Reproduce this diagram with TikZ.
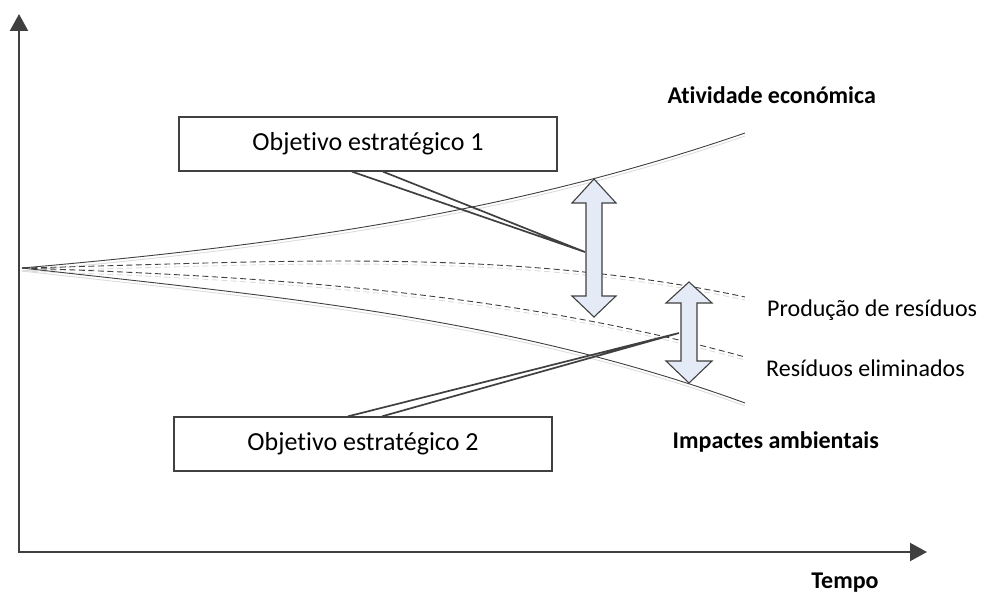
\documentclass[tikz,border=0pt]{standalone}
\usepackage{fontspec}
\setmainfont{Carlito}[Ligatures={NoCommon}]
\usetikzlibrary{arrows.meta}
\definecolor{ink}{HTML}{404040}
\definecolor{shade}{HTML}{DCDCDC}
\definecolor{arrowfill}{HTML}{E5EBF6}

\begin{document}
\begin{tikzpicture}[x=1pt,y=-1pt,
  axis/.style={line width=2.2pt, draw=ink, line join=miter,
    {Triangle[length=17pt,width=18pt]}-{Triangle[length=17pt,width=18pt]}},
  trend/.style={draw=ink, line width=0.9pt},
  trendshadow/.style={draw=shade, line width=0.9pt},
  dashes/.style={dash pattern=on 6pt off 3.5pt},
  callout/.style={draw=ink, line width=1.3pt, fill=white, minimum width=378pt,
    minimum height=54pt, inner sep=0pt, font=\fontsize{26}{30}\selectfont},
  pointer/.style={draw=ink, line width=1.7pt, line join=miter},
  gapmark/.style={draw=ink, line width=1.1pt, fill=arrowfill, line join=miter},
  curvelabel/.style={font=\fontsize{24}{28}\selectfont, inner sep=0pt},
  boldlabel/.style={font=\bfseries\fontsize{24}{28}\selectfont, inner sep=0pt},
  curveplot/.style={domain=0:7.23, samples=80, smooth}
]
\useasboundingbox (0,0) rectangle (981,602);

% axes
\coordinate (ytop) at (19,14);
\coordinate (origin) at (19,552);
\coordinate (xend) at (927,552);
\draw[axis] (ytop) -- (origin) -- (xend);
\node[boldlabel] (tempo) at (845,583) {Tempo};

% trend curves, x = 22 + 100u; each drawn first as a faint shadow
\foreach \dy/\sty in {3/trendshadow, 0/trend} {
  \begin{scope}[yshift=-\dy pt]
    % economic activity
    \draw[\sty] plot[curveplot]
      ({22+100*\x}, {268 - 8.758*\x - 0.5616*\x*\x - 0.112*\x*\x*\x});
    % waste production
    \draw[\sty, dashes] plot[curveplot]
      ({22+100*\x}, {268 - 2.1978*\x - 0.6734*\x*\x + 0.2119*\x*\x*\x});
    % waste eliminated
    \draw[\sty, dashes] plot[curveplot]
      ({22+100*\x}, {268 + 3.5589*\x + 0.3018*\x*\x + 0.1257*\x*\x*\x});
    % environmental impacts
    \draw[\sty] plot[curveplot]
      ({22+100*\x}, {268 + 11.385*\x - 0.4398*\x*\x + 0.2002*\x*\x*\x});
  \end{scope}
}

% curve labels
\node[boldlabel, anchor=base east] (econ) at (876,103) {Atividade económica};
\node[curvelabel, anchor=base west] (prod) at (767,316) {Produção de resíduos};
\node[curvelabel, anchor=base west] (elim) at (766,376) {Resíduos eliminados};
\node[boldlabel, anchor=base east] (impact) at (879,448) {Impactes ambientais};

% objective boxes
\node[callout] (obj1) at (368,144) {Objetivo estratégico 1};
\node[callout] (obj2) at (363,444) {Objetivo estratégico 2};

% callout pointers
\coordinate (tip1) at (585,252);
\coordinate (tip2) at (679,333);
\draw[pointer] ([xshift=-16pt]obj1.south) -- (tip1) -- ([xshift=15pt]obj1.south);
\draw[pointer] ([xshift=-15pt]obj2.north) -- (tip2) -- ([xshift=19pt]obj2.north);

% gap arrows
\draw[gapmark] (594,179) -- (616,203) -- (602,203) -- (602,296) -- (616,296)
  -- (594,317) -- (572,296) -- (586,296) -- (586,203) -- (572,203) -- cycle;
\draw[gapmark] (689,282) -- (712,303) -- (697,303) -- (697,361) -- (712,361)
  -- (689,383) -- (666,361) -- (681,361) -- (681,303) -- (666,303) -- cycle;
\end{tikzpicture}
\end{document}
